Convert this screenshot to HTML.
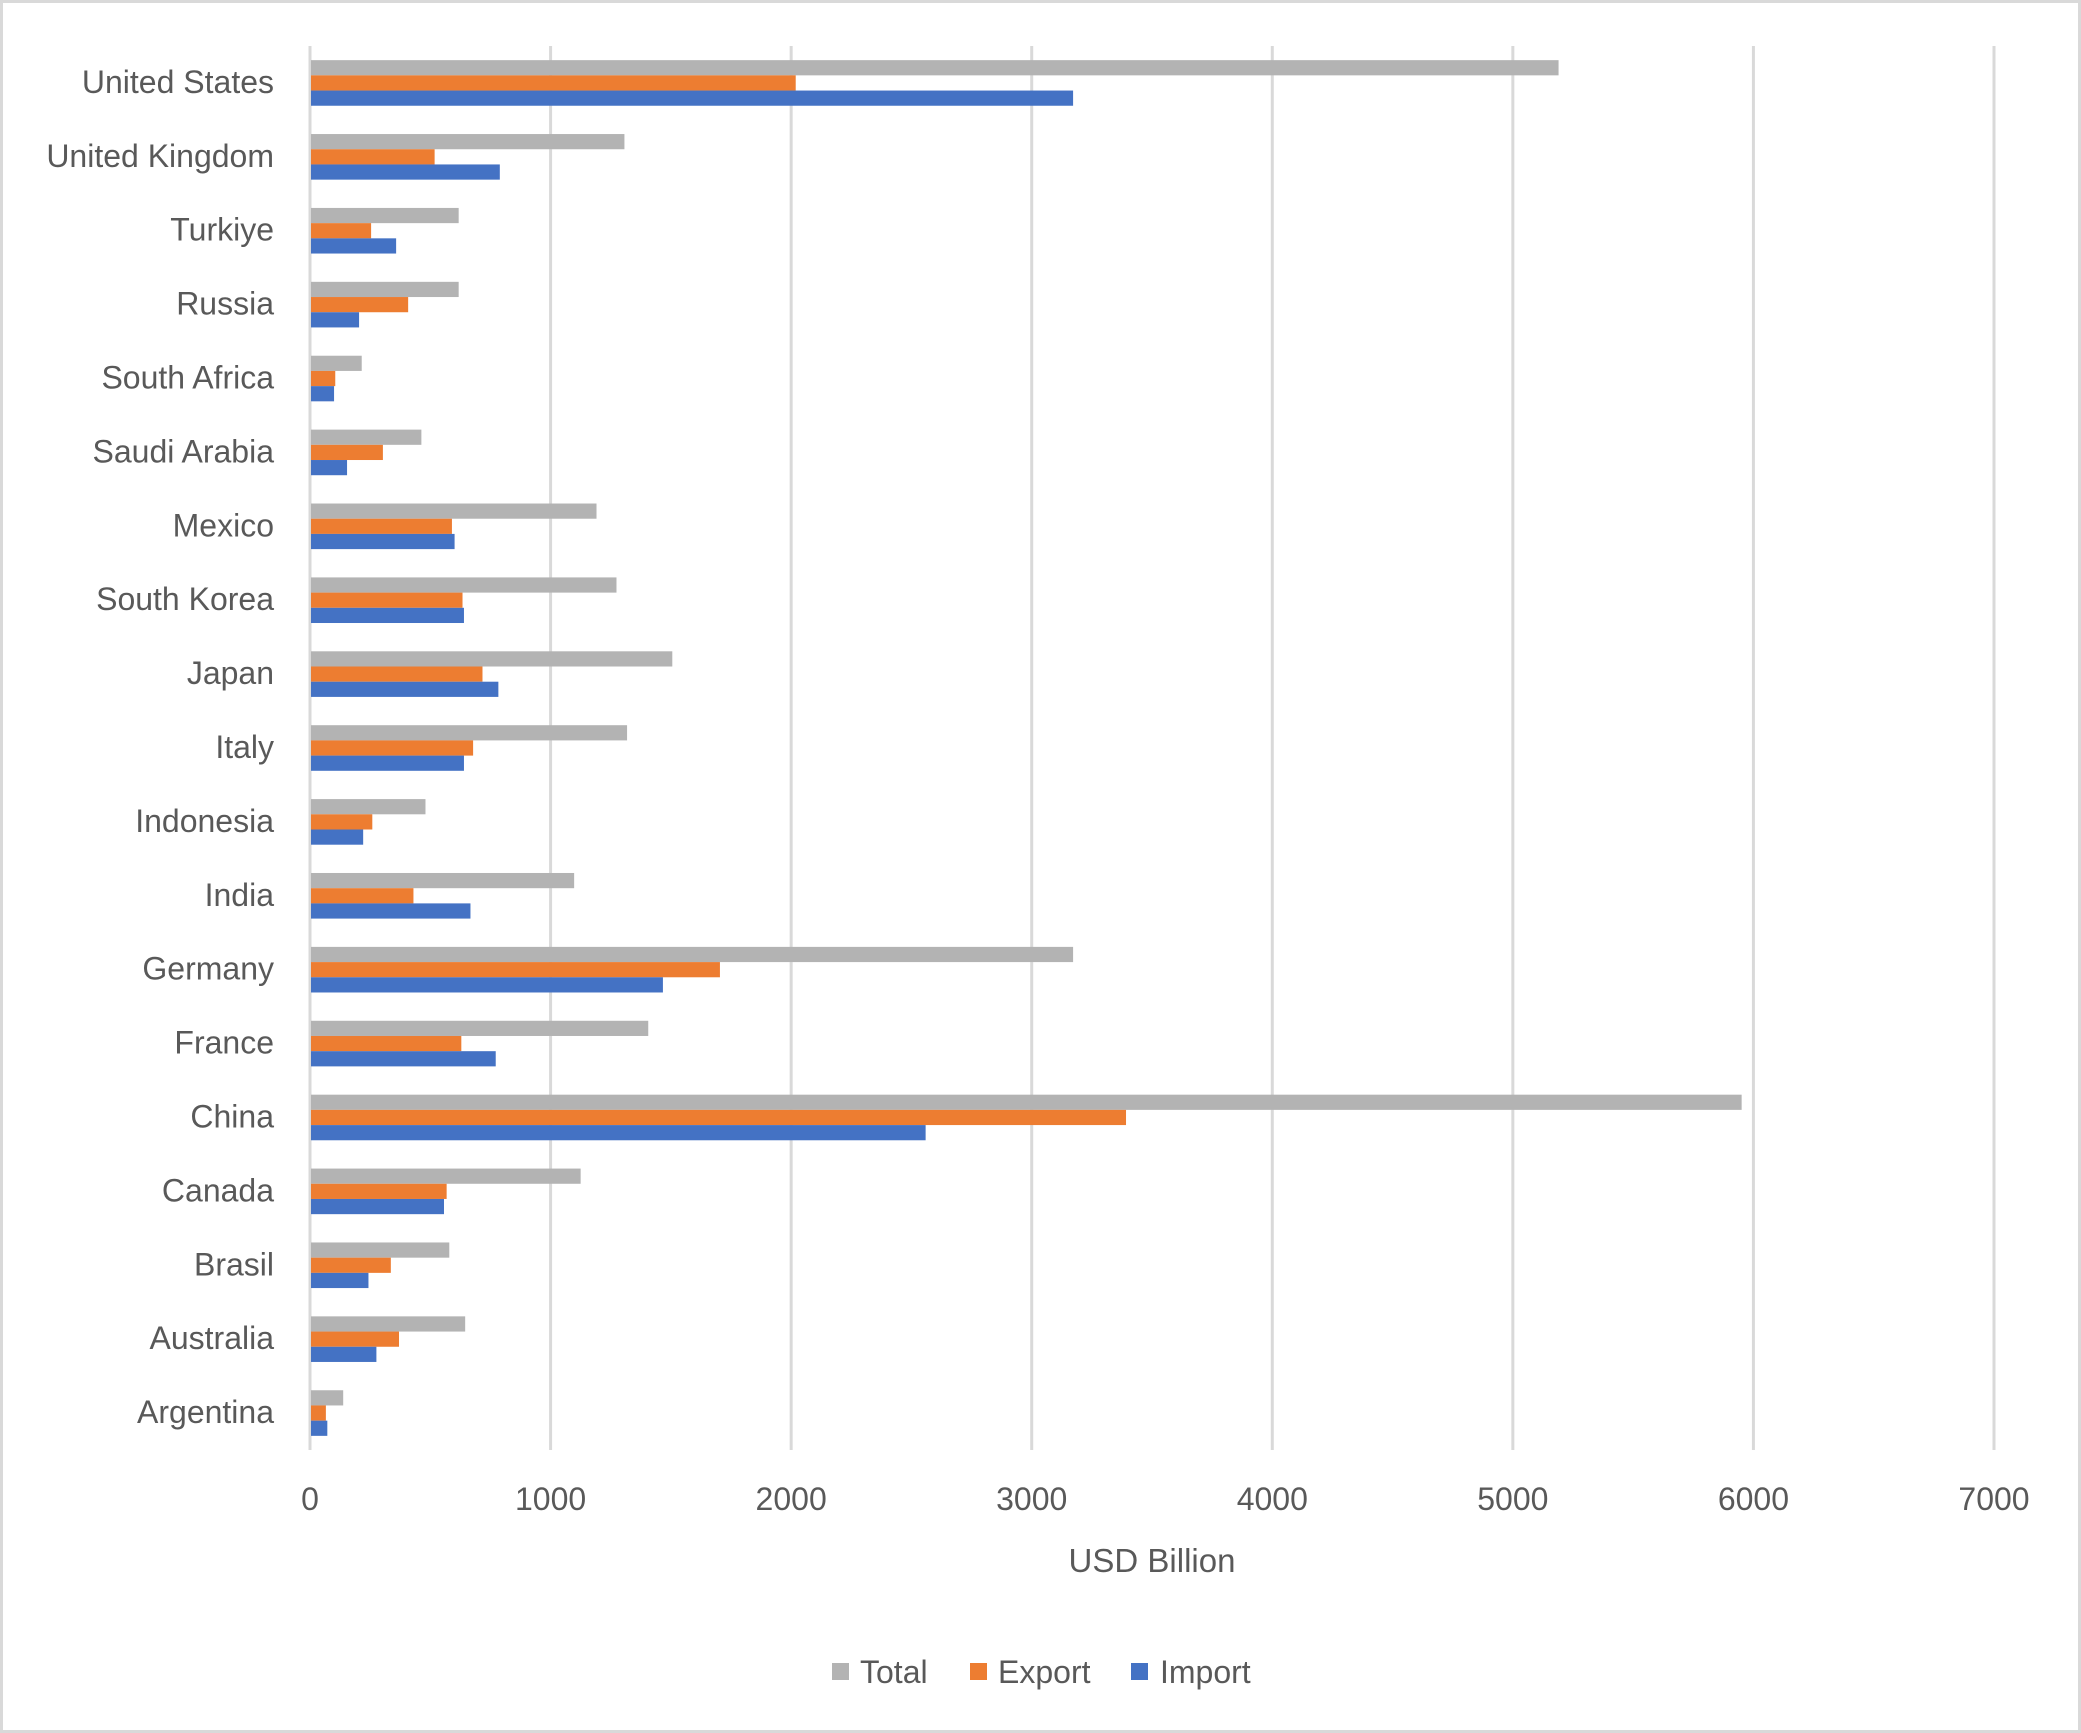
<!DOCTYPE html>
<html><head><meta charset="utf-8"><style>
html,body{margin:0;padding:0;background:#fff}
svg{display:block}
text{font-family:"Liberation Sans",sans-serif;fill:#595959}
</style></head><body>
<svg id="chart" width="2081" height="1733" viewBox="0 0 2081 1733" xmlns="http://www.w3.org/2000/svg">
<rect x="1.5" y="1.5" width="2078" height="1730" fill="#fff" stroke="#d9d9d9" stroke-width="3"/>
<g id="grid"></g><g id="bars"></g><g id="labels"></g><g id="ticks"></g>
<text x="1152" y="1572" font-size="33" text-anchor="middle">USD Billion</text>
<g>
<g><rect x="832" y="1663" width="17" height="17" fill="#b3b3b3"/><text x="860" y="1683" font-size="32">Total</text></g>
<g><rect x="970" y="1663" width="17" height="17" fill="#ed7d31"/><text x="998" y="1683" font-size="32">Export</text></g>
<g><rect x="1131" y="1663" width="17" height="17" fill="#4472c4"/><text x="1160" y="1683" font-size="32">Import</text></g>
</g>
</svg>
<script>
const categories=["United States","United Kingdom","Turkiye","Russia","South Africa","Saudi Arabia","Mexico","South Korea","Japan","Italy","Indonesia","India","Germany","France","China","Canada","Brasil","Australia","Argentina"];
const totalValues=[5190,1307,618,618,215,463,1191,1274,1506,1318,480,1098,3172,1406,5951,1125,579,645,138];
const exportValues=[2019,518,254,408,105,303,590,634,717,678,259,430,1704,629,3392,568,336,370,66];
const importValues=[3172,789,358,204,100,154,601,640,783,640,221,667,1467,772,2559,557,243,276,72];
const xTicks=[0,1000,2000,3000,4000,5000,6000,7000];
const NS="http://www.w3.org/2000/svg";
const x0=310,xMax=7000,plotW=1684,yTop=46,yBot=1450;
const band=(yBot-yTop)/categories.length;
function xs(v){return x0+v/xMax*plotW;}
function yb(i){return yTop+i*band;}
function mk(tag,attrs,parent){const e=document.createElementNS(NS,tag);for(const k in attrs)e.setAttribute(k,attrs[k]);parent.appendChild(e);return e;}
const grid=document.getElementById('grid'),ticks=document.getElementById('ticks'),bars=document.getElementById('bars'),labels=document.getElementById('labels');
xTicks.forEach(t=>{
  const l=mk('line',{x1:xs(t),x2:xs(t),y1:yTop,y2:yBot,stroke:'#d9d9d9','stroke-width':3},grid);
  
  
  const tx=mk('text',{x:xs(t),y:1510,'font-size':32,'text-anchor':'middle'},ticks);
  tx.textContent=t;
  
  
});
const bh=15.2;
const series=[[totalValues,'#b3b3b3','total'],[exportValues,'#ed7d31','export'],[importValues,'#4472c4','import']];
categories.forEach((c,i)=>{
  const cy=yb(i)+band/2;
  series.forEach((s,j)=>{
    const r=mk('rect',{x:xs(0)+1,y:cy-1.5*bh+j*bh,width:Math.max(0,xs(s[0][i])-xs(0)-1),height:bh,fill:s[1]},bars);
    
    
  });
  const t=mk('text',{x:274,y:cy+10,'font-size':32,'text-anchor':'end'},labels);
  t.textContent=c;
  
  
});
</script>
</body></html>
